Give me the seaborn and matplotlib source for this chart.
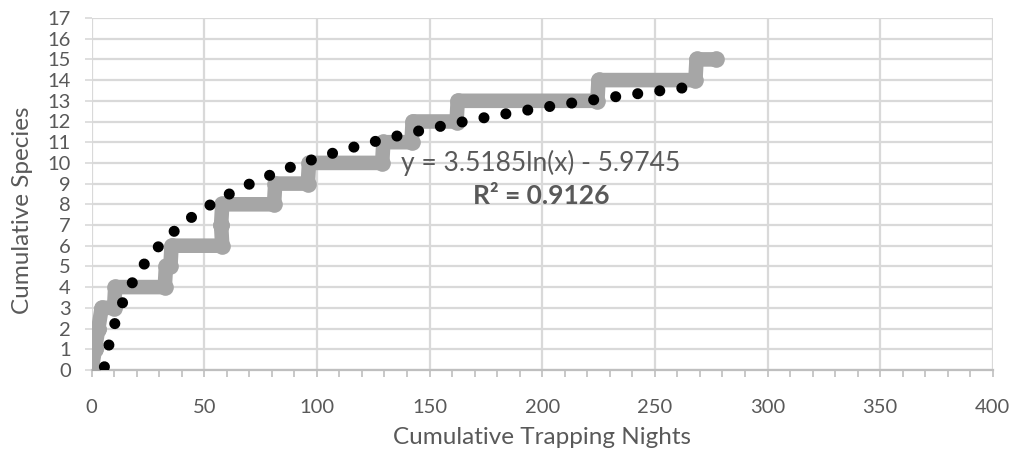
import numpy as np
import pandas as pd
import matplotlib
matplotlib.use("Agg")
import matplotlib.pyplot as plt
import seaborn as sns
from matplotlib.ticker import MultipleLocator

# Species accumulation: cumulative trapping nights at which each species count starts and ends
species_level = [0, 1, 2, 3, 4, 5, 6, 7, 8, 9, 10, 11, 12, 13, 14, 15]
nights_start = [0, 1.5, 3, 4.5, 10.5, 33, 35.5, 57.5, 58, 81.5, 96.5, 129.5, 142.5, 162.5, 225, 268.5]
nights_end = [0, 1.5, 3, 10, 32.5, 35, 58, 57.5, 81, 96, 129, 142, 162, 224.5, 268, 277]

# Logarithmic trendline coefficients
trend_a = 3.5185
trend_b = -5.9745
trend_r2 = 0.9126
trend_x_range = (5.7, 268.5)

x_ticks = [0, 50, 100, 150, 200, 250, 300, 350, 400]
y_ticks = list(range(0, 18))

sns.set_theme(style="white")
plt.rcParams["font.family"] = ["Lato", "DejaVu Sans"]

txt = "#595959"
grid_c = "#d9d9d9"

fig = plt.figure(figsize=(10.23, 4.5), dpi=100)
ax = fig.add_axes([0.0895, 0.178, 0.881, 0.782])

# step polyline through start/end of each species level
xs, ys = [], []
for lvl, s, e in zip(species_level, nights_start, nights_end):
    xs += [s, e]
    ys += [lvl, lvl]
obs = pd.DataFrame({"nights": xs, "species": ys})
sns.lineplot(data=obs, x="nights", y="species", sort=False, estimator=None,
             color="#a6a6a6", linewidth=10.5, solid_capstyle="round",
             solid_joinstyle="round", marker="o", markersize=12,
             markeredgewidth=0, ax=ax, zorder=3)

# trendline drawn from its stated coefficients
tx = np.linspace(trend_x_range[0], trend_x_range[1], 400)
trend = pd.DataFrame({"nights": tx, "species": trend_a * np.log(tx) + trend_b})
sns.lineplot(data=trend, x="nights", y="species", sort=False, estimator=None,
             color="black", linewidth=8.0, ax=ax, zorder=4,
             linestyle=(0, (0.001, 2.0)), dash_capstyle="round")

ax.set_xlim(0, 400)
ax.set_ylim(0, 17)
ax.set_xticks(x_ticks)
ax.set_yticks(y_ticks)
ax.xaxis.set_minor_locator(MultipleLocator(10))
ax.grid(True, which="major", color=grid_c, linewidth=1.6, zorder=0)
ax.set_axisbelow(True)
for side in ["top", "right", "left"]:
    ax.spines[side].set_visible(False)
ax.spines["bottom"].set_color("#bfbfbf")
ax.spines["bottom"].set_linewidth(1.6)
ax.tick_params(axis="x", which="both", direction="out", bottom=True,
               color="#bfbfbf", width=1.2, labelcolor=txt, labelsize=14.5)
ax.tick_params(axis="x", which="major", length=5, pad=16)
ax.tick_params(axis="x", which="minor", length=5)
ax.tick_params(axis="y", which="major", left=True, length=5, color=grid_c,
               width=1.2, labelcolor=txt, labelsize=14.5, pad=10)

ax.set_xlabel("Cumulative Trapping Nights", color=txt, fontsize=17.5, labelpad=8)
ax.set_ylabel("Cumulative Species", color=txt, fontsize=17.5)
ax.yaxis.set_label_coords(-0.065, 0.455)

ax.text(199.5, 10.0, f"y = {trend_a}ln(x) - {abs(trend_b)}", color=txt,
        fontsize=19, ha="center", va="center", zorder=5)
ax.text(199.5, 8.4, f"R² = {trend_r2}", color=txt, fontsize=19,
        fontweight="bold", ha="center", va="center", zorder=5)

fig.savefig("out.png", dpi=100)
